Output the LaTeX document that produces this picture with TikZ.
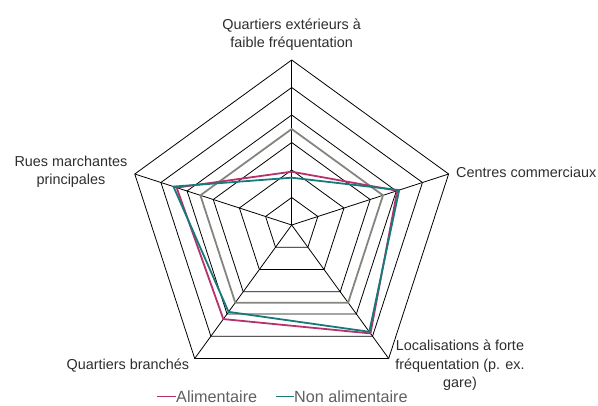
\documentclass[tikz,border=0pt]{standalone}
\usepackage{fontspec}
\setmainfont{Liberation Sans}
\definecolor{alim}{HTML}{B5326B}
\definecolor{nonalim}{HTML}{167A7C}
\definecolor{avg}{HTML}{85857F}
\definecolor{lbl}{HTML}{2E2E2E}
\definecolor{leg}{HTML}{606060}
\begin{document}
\begin{tikzpicture}[x=1pt,y=1pt,
  grid/.style={black,line width=0.8pt,line join=miter},
  series/.style={line width=1.8pt,line join=miter},
  lab/.style={font=\fontsize{14.4}{18.7}\selectfont,text=lbl,inner sep=0pt,align=center},
  legtext/.style={font=\fontsize{16.2}{19}\selectfont,text=leg,inner sep=0pt,anchor=base west},
  legline/.style={line width=1.6pt}]
\useasboundingbox (0,0) rectangle (598,405);
\coordinate (C) at (291.7,180);
\begin{scope}[shift={(C)}]
  \foreach \k in {1,...,6}
    \draw[grid] (90:27.5*\k) -- (18:27.5*\k) -- (-54:27.5*\k) -- (-126:27.5*\k) -- (162:27.5*\k) -- cycle;
  \foreach \a/\n in {90/vT,18/vR,-54/vBR,-126/vBL,162/vL}
    \draw[grid] (0,0) -- (\a:165) coordinate (\n);
  \draw[series,avg] (90:96) -- (18:96) -- (-54:96) -- (-126:96) -- (162:96) -- cycle;
  \draw[series,alim] (90:53.3) -- (18:111) -- (-54:134) -- (-126:116.3) -- (162:121) -- cycle;
  \draw[series,nonalim] (90:47.3) -- (18:113) -- (-54:132) -- (-126:107.4) -- (162:124.3) -- cycle;
\end{scope}
\node[lab,anchor=base] (lT) at (291.7,357) {Quartiers extérieurs à\\faible fréquentation};
\node[lab,anchor=base] (lL) at (71,220) {Rues marchantes\\principales};
\node[lab,anchor=base west] (lR) at (456,227.7) {Centres commerciaux};
\node[lab,anchor=base] (lBR) at (460,17) {Localisations à forte\\fréquentation (p. ex.\\gare)};
\node[lab,anchor=base east] (lBL) at (189.3,35) {Quartiers branchés};
\coordinate (a1) at (156.7,8.5);
\coordinate (a2) at (176,8.5);
\draw[legline,alim] (a1) -- (a2);
\node[legtext] (tA) at (176,2) {Alimentaire};
\coordinate (b1) at (276,8.5);
\coordinate (b2) at (294,8.5);
\draw[legline,nonalim] (b1) -- (b2);
\node[legtext] (tB) at (294,2) {Non alimentaire};
\end{tikzpicture}
\end{document}
